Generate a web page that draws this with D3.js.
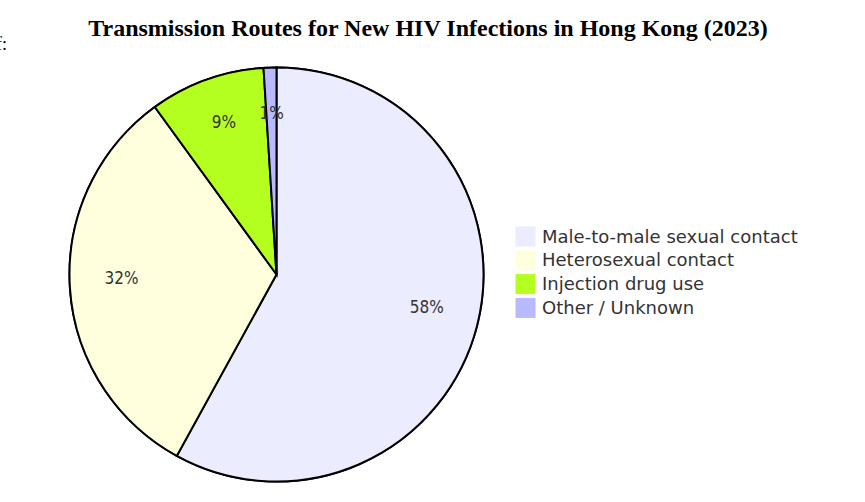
<!DOCTYPE html>
<html>
<head>
<meta charset="utf-8">
<script src="https://cdn.jsdelivr.net/npm/d3@7"></script>
<style>
  body { margin: 0; background: #fff; }
  svg { display: block; }
</style>
</head>
<body>
<script>
// chart data
var titleText = "Transmission Routes for New HIV Infections in Hong Kong (2023)";
var routes = ["Male-to-male sexual contact", "Heterosexual contact", "Injection drug use", "Other / Unknown"];
var shares = [58, 32, 9, 1];
var colors = ["#ECECFF", "#FFFFDE", "#B5FF20", "#B9B9FF"];

var width = 865, height = 502;
var cx = 276.5, cy = 274.5, radius = 207;

var svg = d3.select("body").append("svg")
  .attr("width", width)
  .attr("height", height);

// cropped leftover text at the left edge
svg.append("text")
  .attr("x", -4)
  .attr("y", 50)
  .style("font-family", "'Liberation Serif', 'Times New Roman', serif")
  .style("font-size", "18px")
  .text("f:");

svg.append("text")
  .attr("x", 428)
  .attr("y", 36)
  .attr("text-anchor", "middle")
  .style("font-family", "'Liberation Serif', 'Times New Roman', serif")
  .style("font-weight", "bold")
  .style("font-size", "24px")
  .text(titleText);

var data = routes.map(function (d, i) { return { label: d, value: shares[i], color: colors[i] }; });

var pie = d3.pie().sort(null).value(function (d) { return d.value; });
var arc = d3.arc().innerRadius(0).outerRadius(radius);
var labelArc = d3.arc().innerRadius(radius * 0.75).outerRadius(radius * 0.75);

var g = svg.append("g").attr("transform", "translate(" + cx + "," + cy + ")");

g.append("circle")
  .attr("r", radius)
  .attr("fill", "none")
  .attr("stroke", "#000")
  .attr("stroke-width", 2);

var slices = pie(data);

g.selectAll(".slice")
  .data(slices)
  .enter().append("path")
  .attr("class", "slice")
  .attr("d", arc)
  .attr("fill", function (d) { return d.data.color; })
  .attr("stroke", "#000")
  .attr("stroke-width", 2);

g.selectAll(".pct")
  .data(slices)
  .enter().append("text")
  .attr("class", "pct")
  .attr("transform", function (d) { return "translate(" + labelArc.centroid(d) + ")"; })
  .attr("text-anchor", "middle")
  .style("font-family", "'DejaVu Sans Condensed', 'DejaVu Sans', sans-serif")
  .style("font-size", "17px")
  .style("fill", "#333")
  .text(function (d) { return d.data.value + "%"; });

// legend
var legend = svg.selectAll(".legend")
  .data(data)
  .enter().append("g")
  .attr("class", "legend")
  .attr("transform", function (d, i) { return "translate(516," + (227 + i * 23.8) + ")"; });

legend.append("rect")
  .attr("width", 19)
  .attr("height", 19)
  .attr("fill", function (d) { return d.color; })
  .attr("stroke", function (d) { return d.color; });

legend.append("text")
  .attr("x", 26)
  .attr("y", 15.5)
  .style("font-family", "'DejaVu Sans', verdana, sans-serif")
  .style("font-size", "18px")
  .style("fill", "#333")
  .text(function (d) { return d.label; });
</script>
</body>
</html>
